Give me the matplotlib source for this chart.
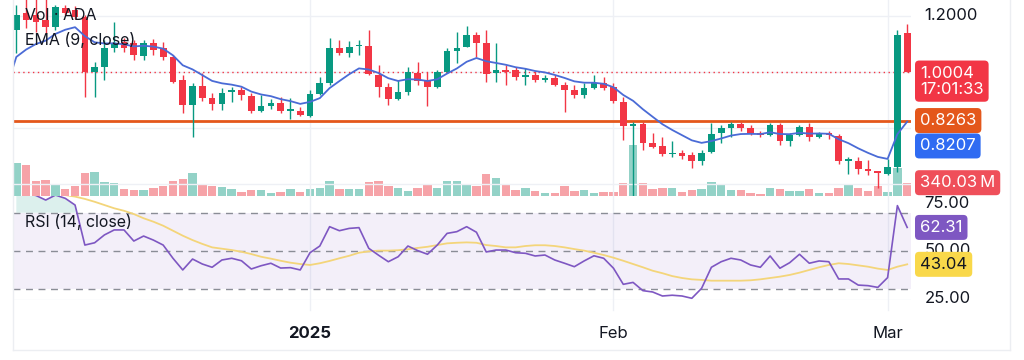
import matplotlib
matplotlib.use('Agg')
import matplotlib.pyplot as plt
import numpy as np
import pandas as pd

plt.rcParams['font.family'] = ['Inter', 'DejaVu Sans']

##Daily candles, 2 Dec 2024 -> 3 Mar 2025
dates = pd.date_range('2024-12-02', '2025-03-03', freq='D')

opens = [1.1490, 1.2096, 1.2025, 1.1846, 1.1597, 1.2274, 1.2203, 1.1953, 0.9993, 1.0172,
         1.0849, 1.1062, 1.1027, 1.0563, 1.1027, 1.0849, 1.0528, 0.9708, 0.8817, 0.9494,
         0.9067, 0.8853, 0.9281, 0.9352, 0.9138, 0.8603, 0.8782, 0.8888, 0.8603, 0.8603,
         0.8425, 0.9209, 0.9601, 1.0849, 1.0670, 1.0920, 1.0920, 0.9886, 0.9459, 0.9031,
         0.9281, 0.9958, 0.9708, 0.9459, 0.9993, 1.0742, 1.0884, 1.1312, 1.1027, 0.9958,
         1.0065, 1.0065, 0.9815, 0.9886, 0.9708, 0.9780, 0.9530, 0.9352, 0.9174, 0.9423,
         0.9601, 0.9459, 0.8924, 0.8069, 0.8140, 0.7463, 0.7356, 0.7071, 0.7107, 0.7035,
         0.6822, 0.7142, 0.7819, 0.7998, 0.8140, 0.7998, 0.7819, 0.7748, 0.8104, 0.7534,
         0.7748, 0.8033, 0.7677, 0.7819, 0.7712, 0.6822, 0.6822, 0.6536, 0.6465, 0.6358,
         0.6608, 1.1383]
highs = [1.2381, 1.2700, 1.2700, 1.2650, 1.2381, 1.2381, 1.2345, 1.2025, 1.0350, 1.1134,
         1.1775, 1.1205, 1.1134, 1.1134, 1.1170, 1.1062, 1.0599, 0.9886, 0.9601, 0.9958,
         0.9245, 0.9423, 0.9459, 0.9459, 0.9245, 0.9174, 0.9031, 0.9102, 0.9067, 0.8746,
         0.9352, 0.9815, 1.1205, 1.1134, 1.1098, 1.1134, 1.1490, 1.0243, 0.9601, 0.9708,
         1.0172, 1.0350, 0.9993, 1.0065, 1.0849, 1.1419, 1.1632, 1.1419, 1.1490, 1.1027,
         1.0243, 1.0172, 1.0136, 1.0029, 0.9886, 0.9886, 0.9637, 0.9530, 0.9601, 0.9886,
         0.9815, 0.9601, 0.9102, 0.8211, 0.8211, 0.7819, 0.7677, 0.7534, 0.7214, 0.7142,
         0.7214, 0.8176, 0.8104, 0.8211, 0.8211, 0.8104, 0.7891, 0.8176, 0.8176, 0.7819,
         0.8104, 0.8176, 0.7855, 0.7891, 0.7784, 0.6964, 0.6964, 0.6857, 0.6465, 0.6893,
         1.1490, 1.1704]
lows = [1.0670, 1.1561, 1.1419, 1.1383, 1.1490, 1.2025, 1.1882, 0.9102, 0.9102, 0.9708,
        1.0706, 1.0706, 1.0421, 1.0421, 1.0599, 1.0421, 0.9601, 0.8532, 0.7677, 0.8960,
        0.8639, 0.8639, 0.8924, 0.8995, 0.8532, 0.8568, 0.8675, 0.8532, 0.8318, 0.8425,
        0.8389, 0.9174, 0.9530, 1.0599, 1.0528, 1.0599, 0.9886, 0.9102, 0.8817, 0.8995,
        0.9174, 0.9530, 0.8782, 0.9423, 0.9958, 1.0314, 1.0884, 1.0528, 0.9637, 0.9637,
        0.9530, 0.9708, 0.9530, 0.9637, 0.9637, 0.9494, 0.8568, 0.9067, 0.9067, 0.9387,
        0.9352, 0.8888, 0.7570, 0.5200, 0.7214, 0.7285, 0.7000, 0.6964, 0.6893, 0.6572,
        0.6679, 0.7107, 0.7463, 0.7677, 0.7891, 0.7748, 0.7677, 0.7712, 0.7392, 0.7356,
        0.7712, 0.7534, 0.7642, 0.7606, 0.6715, 0.6358, 0.6358, 0.6323, 0.5859, 0.6323,
        0.6429, 0.9993]
closes = [1.2025, 1.1846, 1.1775, 1.1597, 1.2310, 1.2096, 1.1953, 0.9993, 1.0172, 1.0849,
          1.1027, 1.0849, 1.0599, 1.1027, 1.0777, 1.0528, 0.9637, 0.8817, 0.9494, 0.9067,
          0.8853, 0.9245, 0.9352, 0.9174, 0.8603, 0.8782, 0.8888, 0.8603, 0.8675, 0.8461,
          0.9209, 0.9601, 1.0849, 1.0670, 1.0884, 1.0956, 0.9922, 0.9459, 0.9031, 0.9281,
          0.9993, 0.9673, 0.9459, 0.9993, 1.0742, 1.0849, 1.1312, 1.1027, 0.9922, 1.0065,
          0.9993, 0.9815, 0.9886, 0.9708, 0.9780, 0.9530, 0.9352, 0.9174, 0.9423, 0.9601,
          0.9423, 0.8960, 0.8069, 0.8140, 0.7463, 0.7320, 0.7071, 0.7107, 0.7000, 0.6822,
          0.7107, 0.7784, 0.7998, 0.8140, 0.7998, 0.7819, 0.7748, 0.8104, 0.7534, 0.7748,
          0.8033, 0.7677, 0.7819, 0.7748, 0.6822, 0.6893, 0.6536, 0.6465, 0.6394, 0.6608,
          1.1312, 1.0004]
volume_m = [852, 794, 384, 402, 315, 171, 256, 596, 614, 358,
            325, 171, 146, 146, 212, 256, 384, 443, 581, 274,
            256, 230, 171, 102, 146, 146, 84, 110, 171, 110,
            171, 197, 384, 171, 171, 171, 358, 384, 256, 197,
            128, 197, 300, 197, 384, 384, 282, 256, 571, 468,
            315, 146, 197, 128, 69, 84, 256, 128, 146, 84,
            110, 102, 340, 1306, 340, 171, 197, 212, 110, 146,
            171, 358, 282, 146, 146, 84, 59, 197, 171, 128,
            128, 171, 84, 84, 197, 315, 197, 128, 256, 110,
            725, 340.03]
rsi = [82, 80, 79, 76.6, 79.2, 77.5, 74, 53.1, 54.3, 58.4,
       61, 61, 55.2, 57.8, 55.7, 53.1, 46.2, 40.1, 45.8, 43.2,
       41.5, 45.3, 46.2, 44.9, 40.6, 42.3, 43.6, 41.1, 41.3, 40.1,
       49.1, 52.6, 62.7, 60.6, 61.8, 62.2, 51.4, 47.8, 44.4, 47,
       52.6, 50.2, 48.3, 53.1, 59.2, 60.1, 62.7, 59.8, 49.5, 50.5,
       50.5, 49.1, 48.8, 47.4, 47.9, 45.3, 43.6, 41.8, 44.8, 47.5,
       46.2, 41, 32.6, 33.6, 29.3, 28.6, 26.5, 26.9, 26.5, 25.3,
       30.5, 41.5, 44.4, 46.2, 45.3, 42.7, 41.5, 47.4, 41, 43.9,
       48.3, 43.6, 44.8, 44.4, 35.4, 35.4, 32.2, 31.9, 31, 36.1,
       73.7, 62.31]
rsi_ma = [80, 80, 80, 79.8, 79.5, 79.2, 78.4, 77.2, 75.7, 74,
          72.3, 71, 69.3, 67.1, 65.3, 63.2, 60.6, 58, 55.7, 53.7,
          51.9, 51.2, 50.5, 49.6, 48.4, 47, 46, 44.9, 43.9, 43.2,
          42.7, 43.6, 44.8, 46.2, 47.5, 49.1, 49.8, 50.2, 50.2, 50.4,
          50.9, 51.6, 52.2, 53.1, 54, 54.3, 54.5, 54.3, 53.1, 52.6,
          51.9, 51.9, 52.6, 53, 53, 52.6, 51.9, 51, 50.2, 49.1,
          47.9, 46.5, 44.9, 43.2, 41.5, 39.7, 38.4, 36.9, 35.9, 35.2,
          34.9, 34.5, 34.5, 34.5, 34.5, 34.7, 35.2, 35.9, 36.6, 37.5,
          38.7, 40.1, 41.5, 42.7, 43.6, 43.2, 42.5, 41.8, 40.8, 40.1,
          41.8, 43.04]
level = 0.8263                  # horizontal support line
ema_seed = 1.0156               # EMA value on the day before the window
ema_last = 0.8207               # value shown on the EMA price tag
countdown = '17:01:33'

tick_dates = ['2025-01-01', '2025-02-01', '2025-03-01']
tick_labels = ['2025', 'Feb', 'Mar']

##Colours
UP, DOWN = '#089981', '#F23645'
VUP, VDOWN = '#93d2c7', '#f6a3a8'
EMA_C = '#4a6bd6'
LEVEL_C = '#e4571b'
RSI_C, RSI_MA_C = '#7E57C2', '#F3D57A'
GRID = '#eef0f5'
TXT = '#131722'

o, h, l, c = (np.array(a) for a in (opens, highs, lows, closes))
x = np.array((dates - pd.Timestamp('2025-01-01')).days)
up = c >= o

ema = []
prev = ema_seed
for v in c:
    prev = 0.2 * v + 0.8 * prev
    ema.append(prev)
ema = np.array(ema)

fig = plt.figure(figsize=(10.24, 3.6), dpi=100)
W, H = 1024., 360.
left, right = 13, 911
ax = fig.add_axes([left / W, 164 / H, (right - left) / W, 196 / H])
axr = fig.add_axes([left / W, 60 / H, (right - left) / W, 104 / H])
axv = ax.twinx()
ax.set_zorder(axv.get_zorder() + 1)
ax.patch.set_visible(False)

xlim = (-30.34, 61.39)
for a in (ax, axr, axv):
    a.set_xlim(*xlim)
    for s in a.spines.values():
        s.set_visible(False)
    a.tick_params(left=False, right=False, bottom=False, top=False,
                  labelleft=False, labelright=False, labelbottom=False)

##Price panel
ax.set_ylim(0.5574, 1.2559)
for g in [0.6, 0.8, 1.0, 1.2]:
    ax.axhline(g, color=GRID, lw=1, zorder=0)
tick_x = [(pd.Timestamp(t) - pd.Timestamp('2025-01-01')).days for t in tick_dates]
for tx in tick_x:
    ax.axvline(tx, color=GRID, lw=1, zorder=0)
    axr.axvline(tx, ymin=-0.1, color=GRID, lw=1, zorder=0, clip_on=False)

ax.axhline(level, color=LEVEL_C, lw=2, zorder=2)
ax.axhline(c[-1], color=DOWN, lw=1, ls=(0, (1, 2.5)), zorder=2)

cols = np.where(up, UP, DOWN)
ax.vlines(x, l, h, colors=cols, lw=1, zorder=3)
body = np.maximum(np.abs(c - o), 0.0025)
ax.bar(x, body, bottom=np.minimum(o, c), width=0.68, color=cols, zorder=4)
ax.plot(np.r_[xlim[0], x], np.r_[ema_seed, ema], color=EMA_C, lw=1.3, zorder=5)

axv.set_ylim(0, 340.03 * 196 / 13.3)
axv.bar(x, volume_m, width=0.86, color=np.where(up, VUP, VDOWN), zorder=1)

lx = 12 / (right - left)
ax.text(lx, 1.2559 - 15 / 280.6, 'Vol · ADA', transform=ax.get_yaxis_transform(),
        fontsize=11.5, color=TXT, va='center', zorder=6)
ax.text(lx, 1.2559 - 40 / 280.6, 'EMA (9, close)', transform=ax.get_yaxis_transform(),
        fontsize=11.5, color=TXT, va='center', zorder=6)

lab_x = (920 - left) / (right - left)
ax.text(lab_x + 0.005, 1.2, '1.2000', transform=ax.get_yaxis_transform(), fontsize=12,
        color=TXT, va='center', clip_on=False)


def tag(a, y, s, fc, tc='white', dy=0):
    a.annotate(s, xy=(lab_x, y), xycoords=('axes fraction', 'data'),
               xytext=(0, dy), textcoords='offset points', ha='left', va='center',
               fontsize=12, color=tc, linespacing=1.1, annotation_clip=False, zorder=10,
               bbox=dict(boxstyle='round,pad=0.3,rounding_size=0.25', fc=fc, ec='none'))


tag(ax, c[-1], '%.4f\n%s' % (c[-1], countdown), DOWN, dy=-6.8)
tag(ax, level, '%.4f' % level, LEVEL_C)
tag(ax, ema[-1], '%.4f' % ema_last, '#2f6bf2', dy=-17.5)
tag(axv, volume_m[-1], '%.2f\u2009M' % volume_m[-1], '#ef4f5a')

##RSI panel
axr.set_ylim(24.41, 78.72)
axr.axhspan(30, 70, color=RSI_C, alpha=0.09, lw=0, zorder=0)
for lv in [70, 50, 30]:
    axr.axhline(lv, color='#8a8d96', lw=1, ls=(0, (5, 4)), zorder=1)
rsi_a = np.array(rsi)
axr.fill_between(x, rsi_a, 70, where=rsi_a > 70, interpolate=True, color=UP, alpha=0.14, lw=0)
axr.plot(x, rsi_ma, color=RSI_MA_C, lw=1.3, zorder=3)
axr.plot(x, rsi, color=RSI_C, lw=1.2, zorder=4)
axr.axhline(24.6, color=GRID, lw=1)
axr.text(lx, 50 + (251 - 222) / 1.915, 'RSI (14, close)',
         transform=axr.get_yaxis_transform(), fontsize=11.5, color=TXT, va='center', zorder=6)

for v in [75, 50, 25]:
    axr.text(lab_x + 0.005, v, '%.2f' % v, transform=axr.get_yaxis_transform(), fontsize=12,
             color=TXT, va='center', clip_on=False, zorder=8)
tag(axr, rsi[-1], '%.2f' % rsi[-1], RSI_C)
tag(axr, rsi_ma[-1], '%.2f' % rsi_ma[-1], '#f9d84a', tc=TXT)

axr.set_xticks(tick_x)
axr.set_xticklabels(tick_labels)
axr.tick_params(labelbottom=True, pad=15, labelsize=12, labelcolor=TXT)
axr.get_xticklabels()[0].set_fontweight('bold')

##Frame of the chart window
fig.add_artist(plt.Line2D([left / W, left / W], [10 / H, 1], color='#eceef2', lw=1))
fig.add_artist(plt.Line2D([left / W, 1010 / W], [10 / H, 10 / H], color='#eceef2', lw=1))
fig.add_artist(plt.Line2D([1010 / W, 1010 / W], [10 / H, 1], color='#eceef2', lw=1))

fig.savefig('out.png', dpi=100)
